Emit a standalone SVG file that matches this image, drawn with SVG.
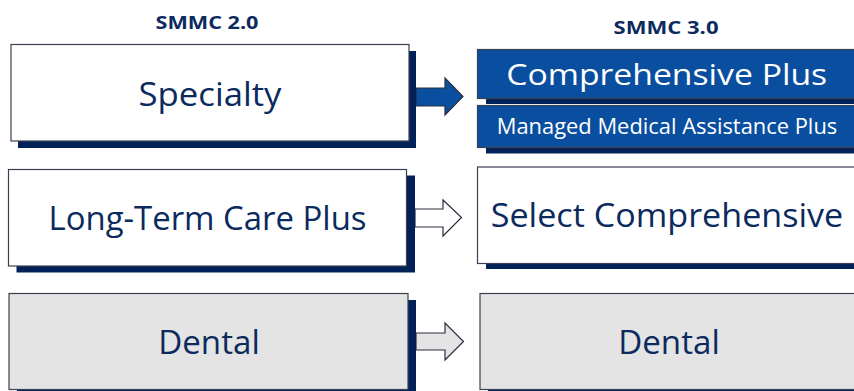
<svg xmlns="http://www.w3.org/2000/svg" width="854" height="391" viewBox="0 0 854 391">
<style>
.shadow{fill:#022159}
.box{stroke:#3c4152;stroke-width:1.2}
.white{fill:#ffffff}
.gray{fill:#e4e4e4}
.blue{fill:#0a4f9f}
.lbl{font-family:"Open Sans","Liberation Sans",sans-serif;fill:#0b2a5e;text-anchor:middle}
.lblw{font-family:"Open Sans","Liberation Sans",sans-serif;fill:#ffffff;text-anchor:middle}
.title{font-family:"Open Sans","Liberation Sans",sans-serif;font-weight:bold;font-size:18px;fill:#0b2a5e;text-anchor:middle}
.arrow{stroke:#2a2f3f;stroke-width:1.2}
</style>
<rect width="854" height="391" fill="#ffffff"/>
<text class="title" x="207" y="28.5" textLength="103" lengthAdjust="spacingAndGlyphs">SMMC 2.0</text>
<text class="title" x="666" y="33.5" textLength="105" lengthAdjust="spacingAndGlyphs">SMMC 3.0</text>

<g id="connectors">
  <polygon class="arrow" fill="#0a4f9f" points="416,88 445,88 445,78 463,96.5 445,115 445,106 416,106"/>
  <polygon class="arrow" fill="#ffffff" points="415,209 443,209 443,200 461.5,217.5 443,236 443,227 415,227"/>
  <polygon class="arrow" fill="#e4e4e4" points="416,333 445,333 445,323 463.5,341.5 445,360 445,350 416,350"/>
</g>

<g id="specialty">
  <rect class="shadow" x="18" y="51" width="398" height="97"/>
  <rect class="box white" x="11" y="44.5" width="398" height="96.5"/>
  <text class="lbl" x="210" y="106" font-size="32" textLength="143" lengthAdjust="spacingAndGlyphs">Specialty</text>
</g>

<g id="ltc-plus">
  <rect class="shadow" x="16.5" y="175.5" width="398.5" height="97"/>
  <rect class="box white" x="8.5" y="169.5" width="398" height="96.5"/>
  <text class="lbl" x="207.5" y="230" font-size="32" textLength="318" lengthAdjust="spacingAndGlyphs">Long-Term Care Plus</text>
</g>

<g id="dental-left">
  <rect class="shadow" x="17" y="300" width="399" height="97"/>
  <rect class="box gray" x="9" y="293.5" width="399" height="96"/>
  <text class="lbl" x="209" y="353.5" font-size="32" textLength="101.5" lengthAdjust="spacingAndGlyphs">Dental</text>
</g>

<g id="comprehensive-plus">
  <rect class="shadow" x="486" y="55" width="380" height="49"/>
  <rect class="box blue" x="477.5" y="49.5" width="390" height="49"/>
  <text class="lblw" x="666.7" y="85" font-size="30" textLength="321" lengthAdjust="spacingAndGlyphs">Comprehensive Plus</text>
</g>

<g id="mma-plus">
  <rect class="shadow" x="486" y="111" width="380" height="42.5"/>
  <rect class="box blue" x="477.5" y="105.5" width="390" height="42"/>
  <text class="lblw" x="667" y="134.3" font-size="21" textLength="340.5" lengthAdjust="spacingAndGlyphs">Managed Medical Assistance Plus</text>
</g>

<g id="select-comprehensive">
  <rect class="shadow" x="486" y="172" width="380" height="97"/>
  <rect class="box white" x="477.5" y="167" width="390" height="96.5"/>
  <text class="lbl" x="667" y="227" font-size="32" textLength="352.5" lengthAdjust="spacingAndGlyphs">Select Comprehensive</text>
</g>

<g id="dental-right">
  <rect class="shadow" x="488" y="300" width="380" height="97"/>
  <rect class="box gray" x="480" y="293.5" width="390" height="96"/>
  <text class="lbl" x="669" y="353.5" font-size="32" textLength="101.5" lengthAdjust="spacingAndGlyphs">Dental</text>
</g>
</svg>
